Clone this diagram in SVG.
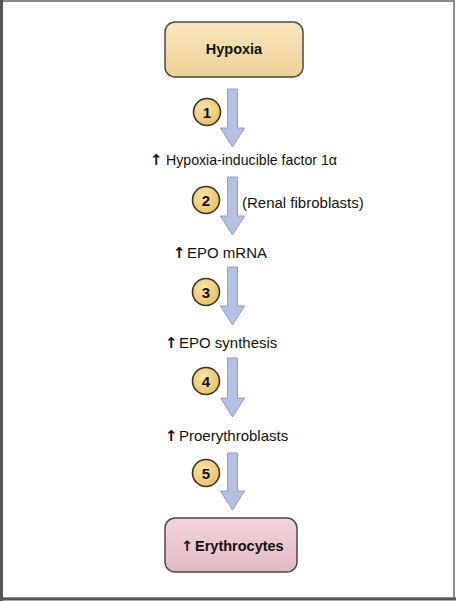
<svg xmlns="http://www.w3.org/2000/svg" width="456" height="601" viewBox="0 0 456 601">
<defs>
<linearGradient id="gTan" x1="0" y1="0" x2="0" y2="1">
<stop offset="0" stop-color="#f8e6bd"/><stop offset="1" stop-color="#ecd196"/>
</linearGradient>
<linearGradient id="gPink" x1="0" y1="0" x2="0" y2="1">
<stop offset="0" stop-color="#f1d6dc"/><stop offset="1" stop-color="#e2b9c3"/>
</linearGradient>
<radialGradient id="gCirc" cx="0.4" cy="0.35" r="0.7">
<stop offset="0" stop-color="#fae4a8"/><stop offset="1" stop-color="#e6bf66"/>
</radialGradient>
</defs>
<style>
.box{stroke:#4a4a4a;stroke-width:1.5}
.t{font-family:"Liberation Sans",Arial,sans-serif;font-size:15px;fill:#111}
.up{font-family:"DejaVu Sans",sans-serif;font-weight:bold;fill:#111}
.b{font-family:"Liberation Sans",Arial,sans-serif;font-size:14.5px;font-weight:bold;fill:#111}
.c{fill:url(#gCirc);stroke:#3a3326;stroke-width:1.6}
.n{font-family:"Liberation Sans",Arial,sans-serif;font-size:15px;font-weight:bold;fill:#111;text-anchor:middle}
.a{fill:#b5c0e2;stroke:#8e9cc9;stroke-width:1}
</style>
<rect x="0" y="0" width="456" height="601" fill="#fff"/>
<rect x="1.5" y="1" width="452.5" height="597.5" fill="none" stroke="#8a8a8a" stroke-width="2"/>
<line x1="1.5" y1="0" x2="1.5" y2="601" stroke="#555" stroke-width="3"/>
<line x1="0" y1="599" x2="456" y2="599" stroke="#555" stroke-width="3"/>

<g id="connectors">
<path class="a" d="M227.5,89 H237.5 V128 H244.5 L232.5,147 L220.5,128 H227.5 Z"/>
<path class="a" d="M227.5,177 H237.5 V216 H244.5 L232.5,235 L220.5,216 H227.5 Z"/>
<path class="a" d="M227.5,267 H237.5 V306 H244.5 L232.5,325 L220.5,306 H227.5 Z"/>
<path class="a" d="M227.5,358 H237.5 V398 H244.5 L232.5,417 L220.5,398 H227.5 Z"/>
<path class="a" d="M227.5,453 H237.5 V491 H244.5 L232.5,510 L220.5,491 H227.5 Z"/>
</g>

<g id="hypoxia">
<rect class="box" x="165" y="22" width="138" height="55" rx="10" fill="url(#gTan)"/>
<text class="b" x="234" y="54" text-anchor="middle">Hypoxia</text>
</g>

<g id="step1"><circle class="c" cx="207" cy="112" r="13.5"/><text class="n" x="207" y="117.5">1</text></g>
<g id="step2"><circle class="c" cx="206" cy="200" r="13.5"/><text class="n" x="206" y="205.5">2</text></g>
<g id="step3"><circle class="c" cx="206" cy="292" r="13.5"/><text class="n" x="206" y="297.5">3</text></g>
<g id="step4"><circle class="c" cx="206" cy="381" r="13.5"/><text class="n" x="206" y="386.5">4</text></g>
<g id="step5"><circle class="c" cx="206" cy="473" r="13.5"/><text class="n" x="206" y="478.5">5</text></g>

<g id="hif"><text class="t" y="165"><tspan class="up" x="150">↑</tspan><tspan x="166" textLength="171" lengthAdjust="spacingAndGlyphs">Hypoxia-inducible factor 1α</tspan></text></g>
<g id="renal"><text class="t" x="242" y="208">(Renal fibroblasts)</text></g>
<g id="epo-mrna"><text class="t" y="258"><tspan class="up" x="173">↑</tspan><tspan x="187">EPO mRNA</tspan></text></g>
<g id="epo-syn"><text class="t" y="348"><tspan class="up" x="165">↑</tspan><tspan x="179">EPO synthesis</tspan></text></g>
<g id="proery"><text class="t" y="441"><tspan class="up" x="165">↑</tspan><tspan x="179">Proerythroblasts</tspan></text></g>

<g id="erythrocytes">
<rect class="box" x="165" y="518" width="132" height="54" rx="10" fill="url(#gPink)"/>
<text class="b" y="551"><tspan class="up" x="181">↑</tspan><tspan x="195">Erythrocytes</tspan></text>
</g>
</svg>
